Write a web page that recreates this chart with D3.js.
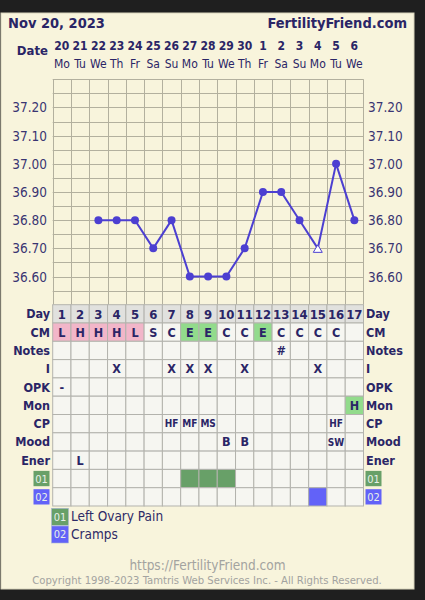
<!DOCTYPE html>
<html><head><meta charset="utf-8">
<script src="https://cdn.jsdelivr.net/npm/d3@7"></script>
<style>
html,body{margin:0;padding:0;background:#1f1f1f;}
svg{display:block;}
</style></head>
<body>
<script>
// ---- data ----
const days = d3.range(1, 18);
const dates = ["20","21","22","23","24","25","26","27","28","29","30","1","2","3","4","5","6"];
const weekdays = ["Mo","Tu","We","Th","Fr","Sa","Su","Mo","Tu","We","Th","Fr","Sa","Su","Mo","Tu","We"];
const temps = [null,null,36.80,36.80,36.80,36.70,36.80,36.60,36.60,36.60,36.70,36.90,36.90,36.80,36.70,37.00,36.80];
const tempMarker = ["","","c","c","c","c","c","c","c","c","c","c","c","c","t","c","c"];
const yTickLabels = [36.60,36.70,36.80,36.90,37.00,37.10,37.20];
const rowLabels = ["Day","CM","Notes","I","OPK","Mon","CP","Mood","Ener","01","02"];
const cmValues = ["L","H","H","H","L","S","C","E","E","C","C","E","C","C","C","C",""];
const notesValues = ["","","","","","","","","","","","","#","","","",""];
const intercourse = ["","","","X","","","X","X","X","","X","","","","X","",""];
const opkValues = ["-","","","","","","","","","","","","","","","",""];
const monValues = ["","","","","","","","","","","","","","","","","H"];
const cpValues = ["","","","","","","HF","MF","MS","","","","","","","HF",""];
const moodValues = ["","","","","","","","","","B","B","","","","","SW",""];
const energyValues = ["","L","","","","","","","","","","","","","","",""];
const sym01 = [0,0,0,0,0,0,0,1,1,1,0,0,0,0,0,0,0];
const sym02 = [0,0,0,0,0,0,0,0,0,0,0,0,0,0,1,0,0];
const legendCodes = ["01","02"];
const legendNames = ["Left Ovary Pain","Cramps"];

// ---- style ----
const W = 425, H = 600;
const NAVY = "#2a2566", LINE = "#4c3fd1", GRID = "#b3b09e", CELLB = "#b3b3ad";
const PINK = "#f2b6c9", LGREEN = "#92db8c", G01 = "#68a068", B02 = "#6262f8";
const FONT = "'DejaVu Sans Condensed','DejaVu Sans',sans-serif";

const svg = d3.select("body").append("svg").attr("width", W).attr("height", H)
  .style("font-family", FONT);

svg.append("rect").attr("x",1).attr("y",13).attr("width",413).attr("height",576)
  .attr("fill","#f8f4dc").attr("stroke","#d8d4bc").attr("stroke-width",1);

const x = d3.scaleBand().domain(days).range([52.7, 363.5]).padding(0);
const y = d3.scaleLinear().domain([36.5, 37.3]).range([304.7, 79.3]);
const rowH = 18.3;
const rowY = d3.scaleBand().domain(rowLabels).range([304.7, 304.7 + rowH * rowLabels.length]);
const cx = d => x(d) + x.bandwidth() / 2;

// header
svg.append("text").attr("x",8).attr("y",28).attr("fill",NAVY).attr("font-weight","bold")
  .attr("font-size",14.5).text("Nov 20, 2023");
svg.append("text").attr("x",407).attr("y",28).attr("text-anchor","end").attr("fill",NAVY)
  .attr("font-weight","bold").attr("font-size",14.5).text("FertilityFriend.com");
svg.append("text").attr("x",48).attr("y",55).attr("text-anchor","end").attr("fill",NAVY)
  .attr("font-weight","bold").attr("font-size",13).text("Date");
svg.selectAll("text.date").data(days).join("text").attr("class","date")
  .attr("x", cx).attr("y",50).attr("text-anchor","middle").attr("fill",NAVY)
  .attr("font-weight","bold").attr("font-size",12).text((d,i)=>dates[i]);
svg.selectAll("text.wd").data(days).join("text").attr("class","wd")
  .attr("x", cx).attr("y",68).attr("text-anchor","middle").attr("fill",NAVY)
  .attr("font-size",12).text((d,i)=>weekdays[i]);

// chart grid
const g = svg.append("g");
const hTicks = d3.range(0, 17).map(i => 36.5 + i * 0.05);
g.selectAll("line.h").data(hTicks).join("line").attr("class","h")
  .attr("x1", x.range()[0]).attr("x2", x.range()[1])
  .attr("y1", d=>Math.round(y(d))+0.5).attr("y2", d=>Math.round(y(d))+0.5)
  .attr("stroke",GRID).attr("stroke-width",1);
g.selectAll("line.v").data(d3.range(0,18)).join("line").attr("class","v")
  .attr("x1", i=>Math.round(x.range()[0] + i*x.bandwidth())+0.5)
  .attr("x2", i=>Math.round(x.range()[0] + i*x.bandwidth())+0.5)
  .attr("y1", y(37.3)).attr("y2", y(36.5))
  .attr("stroke",GRID).attr("stroke-width",1);

// y labels
[[47,"end"],[368,"start"]].forEach(([px,anc])=>{
  svg.selectAll(null).data(yTickLabels).join("text")
    .attr("x",px).attr("y",d=>y(d)+5).attr("text-anchor",anc)
    .attr("fill","#3a3572").attr("font-size",13.5).text(d=>d.toFixed(2));
});

// temperature line
const pts = days.map((d,i)=>({d, t:temps[i], m:tempMarker[i]})).filter(p=>p.t!==null);
svg.append("path").datum(pts)
  .attr("d", d3.line().x(p=>cx(p.d)).y(p=>y(p.t)))
  .attr("fill","none").attr("stroke",LINE).attr("stroke-width",2);
svg.selectAll("circle.pt").data(pts.filter(p=>p.m==="c")).join("circle").attr("class","pt")
  .attr("cx",p=>cx(p.d)).attr("cy",p=>y(p.t)).attr("r",4).attr("fill",LINE);
svg.selectAll("path.tri").data(pts.filter(p=>p.m==="t")).join("path").attr("class","tri")
  .attr("d", p=>{const X=cx(p.d),Y=y(p.t); return `M${X},${Y-3.5}L${X+4.5},${Y+4}L${X-4.5},${Y+4}Z`;})
  .attr("fill","#ffffff").attr("stroke",LINE).attr("stroke-width",1);

// table
const rowData = {
  "Day": days.map(String), "CM": cmValues, "Notes": notesValues, "I": intercourse,
  "OPK": opkValues, "Mon": monValues, "CP": cpValues, "Mood": moodValues, "Ener": energyValues,
  "01": sym01.map(()=> ""), "02": sym02.map(()=> "")
};
function cellFill(row, i){
  if (row==="Day") return "#e1e1de";
  if (row==="CM") { const v=cmValues[i]; if (v==="L"||v==="H") return PINK; if (v==="E") return LGREEN; }
  if (row==="Mon" && monValues[i]==="H") return LGREEN;
  if (row==="01" && sym01[i]) return G01;
  if (row==="02" && sym02[i]) return B02;
  return "#f6f6f1";
}
const cells = [];
rowLabels.forEach(r => days.forEach((d,i) => cells.push({r, d, i, v: rowData[r][i]})));
const tg = svg.append("g");
tg.selectAll("rect").data(cells).join("rect")
  .attr("x", c=>x(c.d)).attr("y", c=>rowY(c.r)).attr("width", x.bandwidth()).attr("height", rowY.bandwidth())
  .attr("fill", c=>cellFill(c.r,c.i)).attr("stroke", CELLB).attr("stroke-width",1);
tg.selectAll("text").data(cells.filter(c=>c.v)).join("text")
  .attr("x", c=>cx(c.d)).attr("y", c=>rowY(c.r)+rowH/2)
  .attr("dy","0.36em").attr("text-anchor","middle").attr("fill",NAVY).attr("font-weight","bold")
  .attr("font-size", c=> (c.r==="Day") ? 13 : (c.v.length>1 ? 10 : 12.5))
  .text(c=>c.v);

// row labels
const textRows = rowLabels.filter(r=>r!=="01" && r!=="02");
[[50,"end"],[366,"start"]].forEach(([px,anc])=>{
  svg.selectAll(null).data(textRows).join("text")
    .attr("x",px).attr("y",r=>rowY(r)+rowH/2).attr("dy","0.36em").attr("text-anchor",anc)
    .attr("fill",NAVY).attr("font-weight","bold").attr("font-size",12.5).text(r=>r);
});
const codeColor = {"01":G01,"02":B02};
[[33.5],[365.5]].forEach(([px])=>{
  legendCodes.forEach(code=>{
    svg.append("rect").attr("x",px).attr("y",rowY(code)+1.5).attr("width",16).attr("height",rowH-3)
      .attr("fill",codeColor[code]);
    svg.append("text").attr("x",px+8).attr("y",rowY(code)+rowH/2).attr("dy","0.36em")
      .attr("text-anchor","middle").attr("fill","#e8f0e8").attr("font-size",11).text(code);
  });
});

// legend
legendCodes.forEach((code,i)=>{
  const ly = 508.3 + i*17.7;
  svg.append("rect").attr("x",51.5).attr("y",ly).attr("width",17).attr("height",17)
    .attr("fill",codeColor[code]).attr("stroke","#a9b6d8").attr("stroke-width",0.6);
  svg.append("text").attr("x",60).attr("y",ly+8.5).attr("dy","0.36em").attr("text-anchor","middle")
    .attr("fill","#e8f0e8").attr("font-size",11).text(code);
  svg.append("text").attr("x",71).attr("y",ly+13).attr("fill","#2e2a66")
    .attr("font-size",13.5).text(legendNames[i]);
});

// footer
svg.append("text").attr("x",207.5).attr("y",569.5).attr("text-anchor","middle")
  .attr("fill","#a3a3a0").attr("font-size",13.5).text("https://FertilityFriend.com");
svg.append("text").attr("x",207).attr("y",584).attr("text-anchor","middle")
  .attr("fill","#a3a3a0").attr("font-size",11.2).text("Copyright 1998-2023 Tamtris Web Services Inc. - All Rights Reserved.");
</script>
</body></html>
